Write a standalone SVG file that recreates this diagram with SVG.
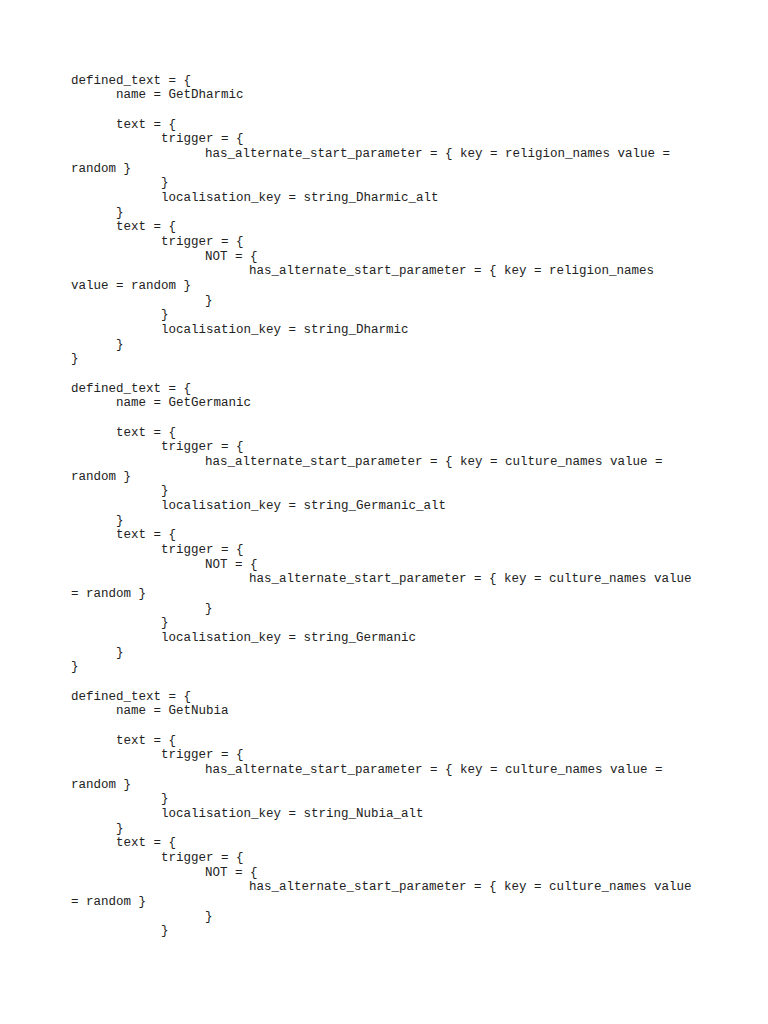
<svg xmlns="http://www.w3.org/2000/svg" width="768" height="1024" viewBox="0 0 768 1024">
<style>text{font-family:"Liberation Mono","DejaVu Sans Mono",monospace;font-size:12.5px;fill:#222}</style>
<rect width="768" height="1024" fill="#fff"/>
<g id="page">
<text x="71" y="83.5">defined_text = {</text>
<text x="116" y="98.2">name = GetDharmic</text>
<text x="116" y="127.5">text = {</text>
<text x="161" y="142.2">trigger = {</text>
<text x="205" y="156.9">has_alternate_start_parameter = { key = religion_names value =</text>
<text x="71" y="171.5">random }</text>
<text x="161" y="186.2">}</text>
<text x="161" y="200.9">localisation_key = string_Dharmic_alt</text>
<text x="116" y="215.5">}</text>
<text x="116" y="230.2">text = {</text>
<text x="161" y="244.9">trigger = {</text>
<text x="205" y="259.5">NOT = {</text>
<text x="249" y="274.2">has_alternate_start_parameter = { key = religion_names</text>
<text x="71" y="288.9">value = random }</text>
<text x="205" y="303.5">}</text>
<text x="161" y="318.2">}</text>
<text x="161" y="332.9">localisation_key = string_Dharmic</text>
<text x="116" y="347.5">}</text>
<text x="71" y="362.2">}</text>

<text x="71" y="391.6">defined_text = {</text>
<text x="116" y="406.2">name = GetGermanic</text>
<text x="116" y="435.6">text = {</text>
<text x="161" y="450.2">trigger = {</text>
<text x="205" y="464.9">has_alternate_start_parameter = { key = culture_names value =</text>
<text x="71" y="479.6">random }</text>
<text x="161" y="494.2">}</text>
<text x="161" y="508.9">localisation_key = string_Germanic_alt</text>
<text x="116" y="523.6">}</text>
<text x="116" y="538.2">text = {</text>
<text x="161" y="552.9">trigger = {</text>
<text x="205" y="567.6">NOT = {</text>
<text x="249" y="582.2">has_alternate_start_parameter = { key = culture_names value</text>
<text x="71" y="596.9">= random }</text>
<text x="205" y="611.6">}</text>
<text x="161" y="626.2">}</text>
<text x="161" y="640.9">localisation_key = string_Germanic</text>
<text x="116" y="655.6">}</text>
<text x="71" y="670.2">}</text>

<text x="71" y="699.6">defined_text = {</text>
<text x="116" y="714.2">name = GetNubia</text>
<text x="116" y="743.6">text = {</text>
<text x="161" y="758.3">trigger = {</text>
<text x="205" y="772.9">has_alternate_start_parameter = { key = culture_names value =</text>
<text x="71" y="787.6">random }</text>
<text x="161" y="802.3">}</text>
<text x="161" y="816.9">localisation_key = string_Nubia_alt</text>
<text x="116" y="831.6">}</text>
<text x="116" y="846.3">text = {</text>
<text x="161" y="860.9">trigger = {</text>
<text x="205" y="875.6">NOT = {</text>
<text x="249" y="890.3">has_alternate_start_parameter = { key = culture_names value</text>
<text x="71" y="904.9">= random }</text>
<text x="205" y="919.6">}</text>
<text x="161" y="934.3">}</text>
</g>
</svg>
